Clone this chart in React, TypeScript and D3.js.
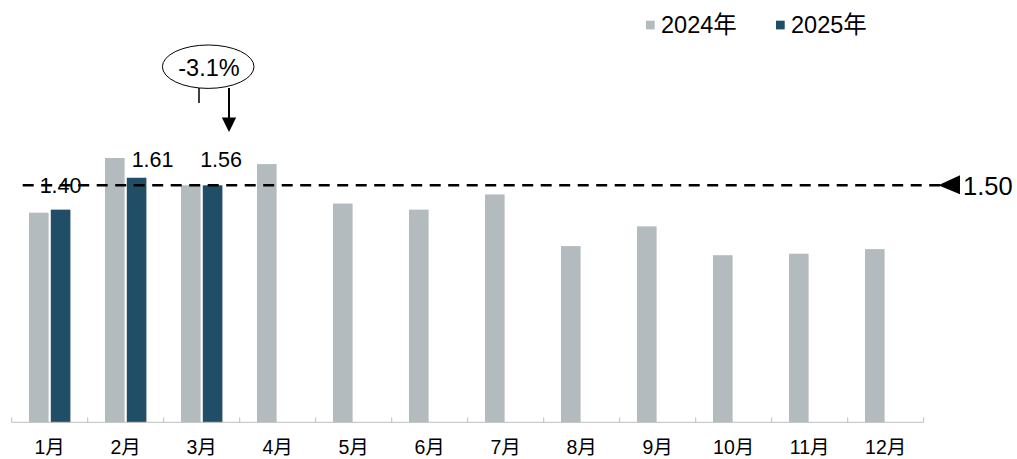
import React from "react";
import * as d3 from "d3";

const months = ["1月", "2月", "3月", "4月", "5月", "6月", "7月", "8月", "9月", "10月", "11月", "12月"];
const seriesNames = ["2024年", "2025年"];
const values2024 = [1.38, 1.74, 1.56, 1.70, 1.44, 1.40, 1.50, 1.16, 1.29, 1.10, 1.11, 1.14];
const values2025 = [1.40, 1.61, 1.56];
const labels2025 = ["1.40", "1.61", "1.56"];
const refLevel = 1.56;
const refLabel = "1.50";
const changeLabel = "-3.1%";

const W = 1017;
const H = 459;
const FONT = "'Liberation Sans', Arial, 'Noto Sans CJK SC', sans-serif";
const GRAY = "#b4bbbe";
const DARK = "#1f4e66";

export default function App() {
  const x = d3.scaleBand<string>().domain(months).range([11.7, 923.7]).padding(0);
  const bw = x.bandwidth();
  const inner = d3.scaleBand<string>().domain(seriesNames).range([17.3, bw - 17.3]).paddingInner(0.1);
  const y = d3.scaleLinear().domain([0, 2]).range([422.3, 118.5]);
  const base = y(0);
  const refY = y(refLevel);
  const labelDx = [0, 16, 8.5];

  const tickXs = months.map((m) => x(m)!).concat([x.range()[1]]);

  return (
    <svg width={W} height={H} style={{ position: "absolute", left: 0, top: 0, background: "#fff" }} fontFamily={FONT}>
      {/* bars */}
      {months.map((m, i) => (
        <g key={m}>
          <rect x={x(m)! + inner(seriesNames[0])!} y={y(values2024[i])} width={inner.bandwidth()} height={base - y(values2024[i])} fill={GRAY} />
          {i < values2025.length && (
            <rect x={x(m)! + inner(seriesNames[1])!} y={y(values2025[i])} width={inner.bandwidth()} height={base - y(values2025[i])} fill={DARK} />
          )}
        </g>
      ))}
      {/* axis */}
      <line x1={x.range()[0]} x2={x.range()[1]} y1={base} y2={base} stroke="#bfbfbf" strokeWidth={1} />
      {tickXs.map((tx, i) => (
        <line key={i} x1={tx} x2={tx} y1={base} y2={base - 5} stroke="#bfbfbf" strokeWidth={1} />
      ))}
      {months.map((m) => (
        <text key={m} x={x(m)! + bw / 2} y={454} textAnchor="middle" fontSize={19.5} fill="#000">
          {m}
        </text>
      ))}
      {/* value labels */}
      {values2025.map((v, i) => {
        const cx = x(months[i])! + inner(seriesNames[1])! + inner.bandwidth() / 2 + labelDx[i];
        const ly = i === 0 ? 193 : 166.7;
        return (
          <text key={i} x={cx} y={ly} textAnchor="middle" fontSize={21.5} fill="#000">
            {labels2025[i]}
          </text>
        );
      })}
      {/* dashed reference line */}
      <line x1={22.7} x2={940} y1={refY} y2={refY} stroke="#000" strokeWidth={2.5} strokeDasharray="11 7.5" />
      <path d={`M938.3,${refY} L960,${refY - 10} L960,${refY + 9} Z`} fill="#000" />
      <text x={963} y={195} fontSize={25.5} fill="#000">
        {refLabel}
      </text>
      {/* annotation */}
      <ellipse cx={208.2} cy={66.7} rx={45.8} ry={21.7} fill="#fff" stroke="#000" strokeWidth={1} />
      <text x={209} y={76} textAnchor="middle" fontSize={23.5} fill="#000">
        {changeLabel}
      </text>
      <line x1={199} x2={199} y1={88} y2={103} stroke="#000" strokeWidth={1.5} />
      <line x1={229} x2={229} y1={88} y2={119} stroke="#000" strokeWidth={2} />
      <path d="M221.8,117.5 L236.2,117.5 L229,132 Z" fill="#000" />
      {/* legend */}
      <rect x={646} y={20.7} width={8.7} height={8.7} fill={GRAY} />
      <text x={661} y={33.3} fontSize={23.5} fill="#000">
        {seriesNames[0]}
      </text>
      <rect x={776} y={20.7} width={8.7} height={8.7} fill={DARK} />
      <text x={791} y={33.3} fontSize={23.5} fill="#000">
        {seriesNames[1]}
      </text>
    </svg>
  );
}
